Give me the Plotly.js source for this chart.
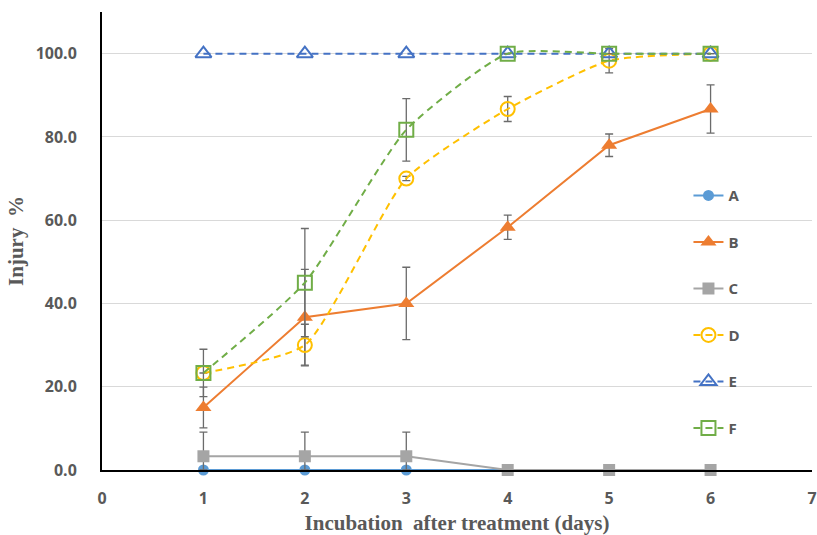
<!DOCTYPE html>
<html>
<head>
<meta charset="utf-8">
<script src="https://cdn.plot.ly/plotly-3.0.1.min.js"></script>
<style>html,body{margin:0;padding:0;background:#fff;}#chart{width:817px;height:535px;}</style>
</head>
<body>
<div id="chart"></div>
<script>
const days = [1, 2, 3, 4, 5, 6];
const seriesNames = ["A", "B", "C", "D", "E", "F"];
const valuesA = [0, 0, 0, 0, 0, 0];
const valuesB = [15.0, 36.7, 40.0, 58.3, 78.0, 86.7];
const valuesC = [3.3, 3.3, 3.3, 0, 0, 0];
const valuesD = [23.3, 30.0, 70.0, 86.7, 98.3, 100.0];
const valuesE = [100, 100, 100, 100, 100, 100];
const valuesF = [23.3, 45.0, 81.7, 100.0, 100.0, 100.0];
const errB = [4.9, 11.5, 8.7, 2.9, 2.7, 5.8];
const errCplus = [5.8, 5.8, 5.8, 0, 0, 0];
const errCminus = [3.3, 3.3, 3.3, 0, 0, 0];
const errD = [0, 5.0, 0.5, 3.0, 2.9, 0];
const errF = [5.7, 13.0, 7.5, 0, 0, 0];
const yTickVals = [0, 20, 40, 60, 80, 100];
const yTickText = ["0.0", "20.0", "40.0", "60.0", "80.0", "100.0"];
const xTickVals = [0, 1, 2, 3, 4, 5, 6, 7];

const errStyle = {color: "#6b6b6b", thickness: 1.3, width: 4};
function eb(arr, minus) {
  const o = Object.assign({type: "data", array: arr, visible: true}, errStyle);
  if (minus) { o.symmetric = false; o.arrayminus = minus; }
  return o;
}

const traces = [
  {name: seriesNames[0], x: days, y: valuesA, mode: "lines+markers",
   line: {color: "#5B9BD5", width: 2}, marker: {symbol: "circle", size: 11, color: "#5B9BD5"}},
  {name: seriesNames[1], x: days, y: valuesB, mode: "lines+markers", error_y: eb(errB),
   line: {color: "#ED7D31", width: 2}, marker: {symbol: "triangle-up", size: 14, color: "#ED7D31"}},
  {name: seriesNames[2], x: days, y: valuesC, mode: "lines+markers", error_y: eb(errCplus, errCminus),
   line: {color: "#A5A5A5", width: 2}, marker: {symbol: "square", size: 12, color: "#A5A5A5"}},
  {name: seriesNames[3], x: days, y: valuesD, mode: "lines+markers", error_y: eb(errD),
   line: {color: "#FFC000", width: 2, dash: "7px,5px", shape: "spline", smoothing: 0.55},
   marker: {symbol: "circle-open", size: 14, color: "#FFC000", line: {width: 2}}},
  {name: seriesNames[4], x: days, y: valuesE, mode: "lines+markers",
   line: {color: "#4472C4", width: 2, dash: "7px,5px"},
   marker: {symbol: "triangle-up-open", size: 14, color: "#4472C4", line: {width: 2}}},
  {name: seriesNames[5], x: days, y: valuesF, mode: "lines+markers", error_y: eb(errF),
   line: {color: "#70AD47", width: 2, dash: "7px,5px", shape: "spline", smoothing: 0.55},
   marker: {symbol: "square-open", size: 14, color: "#70AD47", line: {width: 2}}}
];
traces.forEach((t, i) => { t.type = "scatter"; t.cliponaxis = false; t.legendgroup = "g" + i; });

const layout = {
  width: 817, height: 535,
  margin: {l: 102, r: 5, t: 12, b: 65},
  paper_bgcolor: "#fff", plot_bgcolor: "#fff",
  showlegend: true,
  legend: {x: 0.826, y: 0.635, xanchor: "left", yanchor: "top", bgcolor: "rgba(0,0,0,0)",
    font: {family: "Open Sans, Liberation Sans, sans-serif", size: 15, color: "#595959", weight: "bold"},
    tracegroupgap: 24, itemwidth: 30},
  xaxis: {range: [0, 7], tickvals: xTickVals, showgrid: false, zeroline: false,
    showline: true, linecolor: "#000", linewidth: 2, ticks: "", ticklabelstandoff: 13,
    tickfont: {family: "Open Sans, Liberation Sans, sans-serif", size: 16, color: "#595959", weight: "bold"},
    title: {text: "Incubation  after treatment (days)", standoff: 7,
      font: {family: "Liberation Serif, Times New Roman, serif", size: 21, color: "#595959", weight: "bold"}}},
  yaxis: {range: [0, 110], tickvals: yTickVals, ticktext: yTickText, showgrid: true, gridcolor: "#D9D9D9", gridwidth: 1,
    zeroline: false, showline: true, linecolor: "#000", linewidth: 2, ticks: "", ticklabelstandoff: 20,
    tickfont: {family: "Open Sans, Liberation Sans, sans-serif", size: 16, color: "#595959", weight: "bold"},
    title: {text: "Injury  %", standoff: 6,
      font: {family: "Liberation Serif, Times New Roman, serif", size: 21, color: "#595959", weight: "bold"}}}
};

Plotly.newPlot("chart", traces, layout, {displayModeBar: false, staticPlot: true});
</script>
</body>
</html>
